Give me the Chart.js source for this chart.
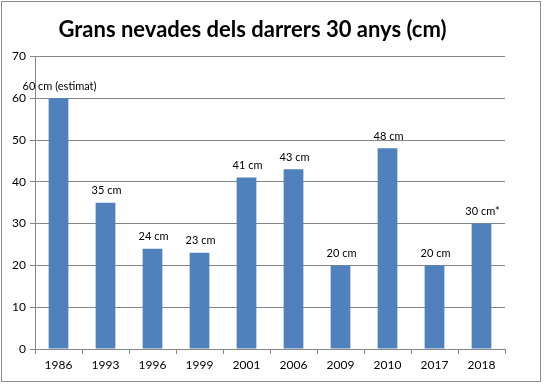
<!DOCTYPE html>
<html>
<head>
<meta charset="utf-8">
<script src="https://cdn.jsdelivr.net/npm/chart.js@4"></script>
<style>
  html, body { margin: 0; padding: 0; background: #fff; }
  #wrap { width: 545px; height: 387px; }
</style>
</head>
<body>
<div id="wrap"><canvas id="chart" width="545" height="387"></canvas></div>
<script>
const years = ["1986", "1993", "1996", "1999", "2001", "2006", "2009", "2010", "2017", "2018"];
const snowCm = [60, 35, 24, 23, 41, 43, 20, 48, 20, 30];
const barLabels = ["60 cm (estimat)", "35 cm", "24 cm", "23 cm", "41 cm", "43 cm", "20 cm", "48 cm", "20 cm", "30 cm*"];

const FONT = "Lato";

// labels above each bar + outer frame
const extras = {
  id: "extras",
  beforeDraw(chart) {
    const ctx = chart.ctx;
    ctx.save();
    ctx.fillStyle = "#fff";
    ctx.fillRect(0, 0, chart.width, chart.height);
    ctx.strokeStyle = "#8c8c8c";
    ctx.lineWidth = 1;
    ctx.strokeRect(1.5, 1.5, 539, 380);
    ctx.restore();
  },
  afterDatasetsDraw(chart) {
    const ctx = chart.ctx;
    const meta = chart.getDatasetMeta(0);
    ctx.save();
    ctx.font = "11px " + FONT;
    ctx.fillStyle = "#000";
    ctx.textAlign = "center";
    ctx.textBaseline = "middle";
    meta.data.forEach((bar, i) => {
      ctx.fillText(barLabels[i], bar.x + 1, bar.y - 12);
    });
    ctx.restore();
  }
};

new Chart(document.getElementById("chart"), {
  type: "bar",
  data: {
    labels: years,
    datasets: [{
      data: snowCm,
      backgroundColor: "#4F81BD",
      barPercentage: 0.42,
      categoryPercentage: 1
    }]
  },
  options: {
    responsive: false,
    animation: false,
    layout: { padding: { left: 0, right: 40, top: 0, bottom: 10 } },
    plugins: {
      legend: { display: false },
      tooltip: { enabled: false },
      title: {
        display: true,
        text: "Grans nevades dels darrers 30 anys (cm)",
        color: "#000",
        font: { family: FONT, size: 22, weight: "bold" },
        padding: { top: 17, bottom: 13 }
      }
    },
    scales: {
      x: {
        afterFit(scale) { scale.height = 28; },
        grid: {
          drawOnChartArea: false,
          color: "#868686",
          tickLength: 5,
          tickColor: "#868686"
        },
        border: { color: "#868686" },
        ticks: { color: "#000", font: { family: FONT, size: 12 }, padding: 4 }
      },
      y: {
        min: 0,
        max: 70,
        afterFit(scale) { scale.width = 35; },
        grid: {
          color: "#868686",
          tickLength: 5,
          tickColor: "#868686"
        },
        border: { color: "#868686" },
        ticks: { stepSize: 10, color: "#000", font: { family: FONT, size: 12 }, padding: 4 }
      }
    }
  },
  plugins: [extras]
});
</script>
</body>
</html>
